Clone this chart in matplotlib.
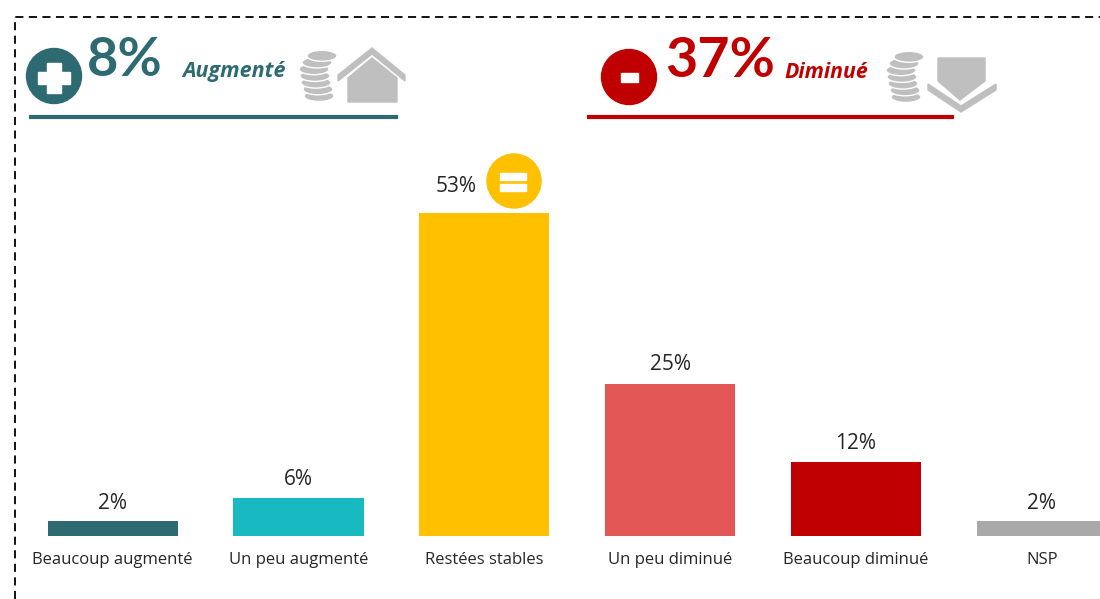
import matplotlib
matplotlib.use("Agg")
import matplotlib.pyplot as plt
from matplotlib.patches import Circle, Ellipse, Polygon, Rectangle

categories = ["Beaucoup augmenté", "Un peu augmenté", "Restées stables",
              "Un peu diminué", "Beaucoup diminué", "NSP"]
values = [2.4, 6.2, 53, 25, 12.1, 2.4]
value_labels = ["2%", "6%", "53%", "25%", "12%", "2%"]
bar_colors = ["#2e6a72", "#19b9c1", "#ffc000", "#e35757", "#c00000", "#a9a9a9"]

teal = "#2e6a72"
red = "#c00000"
grey = "#bfbfbf"
text_color = "#262626"

fig = plt.figure(figsize=(11, 5.99), dpi=100)

# bars, scale set so the categories land where they do in the picture
ax = fig.add_axes([0, 0, 1, 1])
ax.set_xlim((0 - 112.7) / 185.8, (1100 - 112.7) / 185.8)
ax.set_ylim(-63 / 6.09, 536 / 6.09)
ax.axis("off")
ax.bar(range(len(values)), values, width=0.7, color=bar_colors)

# small nudges of the value labels, in points
label_dx = [0, 0, -20, 0, 0, 0]
label_dy = [5, 6, 12, 6, 6, 5]
for i in range(len(values)):
    ax.annotate(value_labels[i], (i, values[i]), xytext=(label_dx[i], label_dy[i]),
                textcoords="offset points", ha="center", va="bottom",
                family="Open Sans", fontsize=15, color=text_color)
    ax.annotate(categories[i], (i, 0), xytext=(0, -17.5), textcoords="offset points",
                ha="center", va="center", family="Open Sans", fontsize=12, color=text_color)

# header decorations in pixel coordinates
deco = fig.add_axes([0, 0, 1, 1])
deco.set_xlim(0, 1100)
deco.set_ylim(599, 0)
deco.axis("off")
deco.patch.set_alpha(0)


def coins(x, y):
    offsets = [1, 0, -2, -3, -4, -1, 4]
    for k in range(len(offsets)):
        deco.add_patch(Ellipse((x + offsets[k], y - k * 6.7), 30, 11, fc=grey, ec="white", lw=1))


def sign(x, y, r, color, kind):
    deco.add_patch(Circle((x, y), r, color=color))
    if kind == "+":
        deco.add_patch(Rectangle((x - 16, y - 4), 32, 12, color="white"))
        deco.add_patch(Rectangle((x - 7, y - 13), 14, 30, color="white"))
    elif kind == "-":
        deco.add_patch(Rectangle((x - 8, y - 4), 17, 9, color="white"))
    else:
        deco.add_patch(Rectangle((x - 14, y - 8), 26, 7, color="white"))
        deco.add_patch(Rectangle((x - 14, y + 3), 26, 7, color="white"))


def chevron(left, tip, right, thick):
    deco.add_patch(Polygon([left, tip, right, [right[0], right[1] + thick],
                            [tip[0], tip[1] + thick], [left[0], left[1] + thick]], color=grey))


# dashed frame
deco.plot([15, 15, 1100], [599, 17, 17], color="black", lw=1.3, dashes=(4.5, 3))

# left header
sign(54, 76, 27.5, teal, "+")
deco.text(87, 61, "8%", color=teal, family="Lato", weight="bold", fontsize=39, va="center")
deco.text(182, 72, "Augmenté", color=teal, family="Open Sans", weight="bold",
          style="italic", fontsize=15.5, va="center")
coins(318, 96)
chevron([338, 75], [372, 48], [405, 75], 6)
deco.add_patch(Polygon([[348, 78], [372, 58], [397, 78], [397, 102], [348, 102]], color=grey))
deco.plot([29, 398], [117, 117], color=teal, lw=3, solid_capstyle="butt")

# right header
sign(629, 77, 27.5, red, "-")
deco.text(665, 61, "37%", color=red, family="Lato", weight="bold", fontsize=40, va="center")
deco.text(784, 72, "Diminué", color=red, family="Open Sans", weight="bold",
          style="italic", fontsize=15.3, va="center")
coins(905, 97)
deco.add_patch(Polygon([[938, 58], [985, 58], [985, 81], [960, 100], [938, 81]], color=grey))
chevron([928, 84], [961, 106], [996, 84], 6)
deco.plot([587, 954], [117, 117], color=red, lw=3, solid_capstyle="butt")

# equal sign next to the stable bar
sign(514, 181, 27, "#ffc000", "=")

fig.savefig("out.png", dpi=100, facecolor="white")
